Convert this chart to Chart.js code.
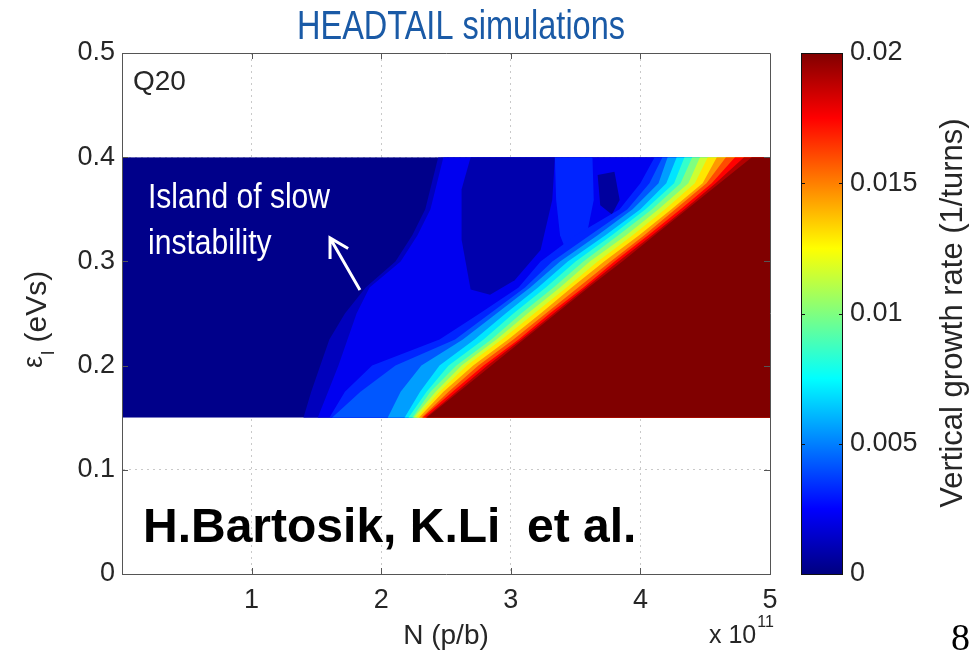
<!DOCTYPE html>
<html>
<head>
<meta charset="utf-8">
<script src="https://cdn.jsdelivr.net/npm/chart.js@4.4.0/dist/chart.umd.min.js"></script>
<style>
html,body{margin:0;padding:0;background:#fff;}
#wrap{position:relative;width:973px;height:657px;}
canvas{display:block;}
</style>
</head>
<body>
<div id="wrap"><canvas id="c" width="973" height="657"></canvas></div>
<script>
// ---------------- DATA ----------------
// longitudinal emittance rows (eVs) where the contour edges were read
const epsRows = [0.15, 0.175, 0.2, 0.225, 0.25, 0.275, 0.3, 0.325, 0.35, 0.375, 0.4];
// growth rate of the area left of every edge (1/turns)
const baseRate = 0.0002;
// growth rate of each contour band (1/turns), lowest to highest
const levelRates = [0.0012, 0.0022, 0.0032, 0.0042, 0.0056, 0.007, 0.0085, 0.01, 0.0115, 0.013, 0.0145, 0.016, 0.0175, 0.019, 0.02];
// N (x1e11 p/b) where each band starts, one value per epsRows entry
const edge01 = [1.40, 1.46, 1.53, 1.60, 1.72, 1.88, 2.11, 2.24, 2.34, 2.39, 2.44];
const edge02 = [1.51, 1.59, 1.67, 1.74, 1.81, 1.91, 2.15, 2.28, 2.38, 2.43, 2.48];
const edge03 = [1.60, 1.72, 1.93, 2.45, 2.76, 3.06, 3.23, 3.50, 3.84, 4.00, 4.11];
const edge04 = [1.62, 1.84, 2.11, 2.57, 2.84, 3.11, 3.32, 3.61, 3.90, 4.07, 4.17];
const edge05 = [2.05, 2.15, 2.31, 2.63, 2.89, 3.15, 3.38, 3.67, 3.94, 4.14, 4.21];
const edge06 = [2.18, 2.30, 2.45, 2.72, 2.96, 3.21, 3.44, 3.73, 4.00, 4.20, 4.28];
const edge07 = [2.21, 2.35, 2.52, 2.79, 3.02, 3.27, 3.50, 3.78, 4.04, 4.26, 4.34];
const edge08 = [2.24, 2.38, 2.58, 2.85, 3.08, 3.33, 3.56, 3.83, 4.09, 4.31, 4.40];
const edge09 = [2.25, 2.42, 2.62, 2.89, 3.13, 3.38, 3.61, 3.89, 4.14, 4.37, 4.46];
const edge10 = [2.27, 2.45, 2.66, 2.93, 3.18, 3.43, 3.67, 3.94, 4.19, 4.42, 4.52];
const edge11 = [2.29, 2.48, 2.71, 2.98, 3.23, 3.47, 3.72, 3.99, 4.24, 4.48, 4.59];
const edge12 = [2.31, 2.52, 2.75, 3.02, 3.27, 3.52, 3.77, 4.03, 4.27, 4.51, 4.66];
const edge13 = [2.32, 2.55, 2.79, 3.06, 3.30, 3.56, 3.80, 4.06, 4.31, 4.55, 4.73];
const edge14 = [2.34, 2.58, 2.82, 3.08, 3.33, 3.58, 3.83, 4.09, 4.34, 4.58, 4.80];
const edge15 = [2.35, 2.60, 2.85, 3.10, 3.35, 3.60, 3.86, 4.11, 4.36, 4.61, 4.86];
// isolated patches inside the slow-instability island
const patchDimN   = [2.69, 3.34, 3.32, 3.23, 3.03, 2.84, 2.69, 2.62, 2.62];
const patchDimEps = [0.40, 0.40, 0.359, 0.311, 0.282, 0.268, 0.273, 0.321, 0.369];
const patchDimRate = 0.0009;
const patchStreakN   = [3.34, 3.63, 3.64, 3.57, 3.46, 3.38, 3.35];
const patchStreakEps = [0.40, 0.40, 0.359, 0.316, 0.300, 0.325, 0.359];
const patchStreakRate = 0.0032;
const patchSpotN   = [3.67, 3.80, 3.84, 3.78, 3.69];
const patchSpotEps = [0.383, 0.386, 0.359, 0.345, 0.354];
const patchSpotRate = 0.0006;
// tick labels
const xTickLabels = ['', '1', '2', '3', '4', '5'];
const yTickLabels = ['0', '0.1', '0.2', '0.3', '0.4', '0.5'];
const cbTickLabels = ['0', '0.005', '0.01', '0.015', '0.02'];

// ---------------- build datasets ----------------
const edges = [edge01, edge02, edge03, edge04, edge05, edge06, edge07, edge08, edge09, edge10, edge11, edge12, edge13, edge14, edge15];
const toPts = (xs, ys) => xs.map((v, i) => ({x: v, y: ys[i]}));
const datasets = [];
edges.forEach((e, k) => {
  datasets.push({label: 'edge ' + (k + 1), kind: 'contour', rate: levelRates[k], data: toPts(e, epsRows)});
  if (k === 1) {
    datasets.push({label: 'dim patch', kind: 'patch', rate: patchDimRate, data: toPts(patchDimN, patchDimEps)});
    datasets.push({label: 'streak', kind: 'patch', rate: patchStreakRate, data: toPts(patchStreakN, patchStreakEps)});
    datasets.push({label: 'spot', kind: 'patch', rate: patchSpotRate, data: toPts(patchSpotN, patchSpotEps)});
  }
});
datasets.forEach(d => { d.pointRadius = 0; d.pointHoverRadius = 0; d.showLine = false; });

// ---------------- helpers ----------------
function jet(v, vmax) {
  const t = Math.max(0, Math.min(1, v / vmax));
  const c = a => Math.round(255 * Math.max(0, Math.min(1, a)));
  const r = Math.min(4 * t - 1.5, -4 * t + 4.5);
  const g = Math.min(4 * t - 0.5, -4 * t + 3.5);
  const b = Math.min(4 * t + 0.5, -4 * t + 2.5);
  return 'rgb(' + c(r) + ',' + c(g) + ',' + c(b) + ')';
}
const SANS = "'Liberation Sans', Arial, Helvetica, sans-serif";
const TXT = '#262626';

// draw text condensed horizontally (narrow face emulation)
function narrowText(ctx, text, x, y, sx) {
  ctx.save();
  ctx.translate(x, y); ctx.scale(sx, 1);
  ctx.fillText(text, 0, 0);
  ctx.restore();
}

const contourPlugin = {
  id: 'contourFill',
  beforeDatasetsDraw(chart) {
    const {ctx, scales: {x, y, cb}} = chart;
    const X = v => x.getPixelForValue(v), Y = v => y.getPixelForValue(v);
    const xl = X(x.min), xr = X(x.max);
    const yb = Y(epsRows[0]), yt = Y(epsRows[epsRows.length - 1]);
    ctx.save();
    ctx.beginPath(); ctx.rect(xl, yt, xr - xl, yb - yt); ctx.clip();
    ctx.fillStyle = jet(baseRate, cb.max);
    ctx.fillRect(xl, yt, xr - xl, yb - yt);
    chart.data.datasets.forEach(ds => {
      ctx.beginPath();
      ds.data.forEach((p, i) => i ? ctx.lineTo(X(p.x), Y(p.y)) : ctx.moveTo(X(p.x), Y(p.y)));
      if (ds.kind === 'contour') { ctx.lineTo(xr + 2, yt); ctx.lineTo(xr + 2, yb); }
      ctx.closePath();
      ctx.fillStyle = jet(ds.rate, cb.max);
      ctx.fill();
    });
    ctx.restore();
  }
};

const decorPlugin = {
  id: 'decor',
  afterDraw(chart) {
    const {ctx, chartArea: a, scales: {x, y, cb}} = chart;
    ctx.save();
    // box top/right + inward ticks
    ctx.strokeStyle = '#555'; ctx.lineWidth = 1;
    ctx.beginPath();
    ctx.moveTo(a.left, Math.round(a.top) + 0.5); ctx.lineTo(Math.round(a.right) + 0.5, Math.round(a.top) + 0.5);
    ctx.lineTo(Math.round(a.right) + 0.5, a.bottom);
    x.ticks.forEach(t => {
      if (t.value <= x.min || t.value >= x.max) return;
      const px = Math.round(x.getPixelForValue(t.value)) + 0.5;
      ctx.moveTo(px, a.bottom); ctx.lineTo(px, a.bottom - 6);
      ctx.moveTo(px, a.top); ctx.lineTo(px, a.top + 6);
    });
    y.ticks.forEach(t => {
      if (t.value <= y.min || t.value >= y.max) return;
      const py = Math.round(y.getPixelForValue(t.value)) + 0.5;
      ctx.moveTo(a.left, py); ctx.lineTo(a.left + 6, py);
      ctx.moveTo(a.right, py); ctx.lineTo(a.right - 6, py);
    });
    ctx.stroke();

    // colour bar
    const bx0 = 801, bx1 = 843;
    const by0 = cb.getPixelForValue(cb.max), by1 = cb.getPixelForValue(cb.min);
    const grad = ctx.createLinearGradient(0, by1, 0, by0);
    [0, 0.125, 0.375, 0.625, 0.875, 1].forEach(s => grad.addColorStop(s, jet(s * cb.max, cb.max)));
    ctx.fillStyle = grad;
    ctx.fillRect(bx0, by0, bx1 - bx0, by1 - by0);
    ctx.strokeStyle = '#111';
    ctx.strokeRect(bx0 + 0.5, Math.round(by0) + 0.5, bx1 - bx0 - 1, Math.round(by1 - by0));
    ctx.beginPath();
    cb.ticks.forEach(t => {
      if (t.value <= cb.min || t.value >= cb.max) return;
      const py = Math.round(cb.getPixelForValue(t.value)) + 0.5;
      ctx.moveTo(bx0, py); ctx.lineTo(bx0 + 4, py);
      ctx.moveTo(bx1, py); ctx.lineTo(bx1 - 4, py);
    });
    ctx.stroke();

    // colour bar title
    ctx.fillStyle = TXT;
    ctx.save();
    ctx.translate(953, 313); ctx.rotate(-Math.PI / 2);
    ctx.font = '31px ' + SANS; ctx.textAlign = 'center'; ctx.textBaseline = 'middle';
    ctx.fillText('Vertical growth rate (1/turns)', 0, 0);
    ctx.restore();

    // y axis title  ε_l (eVs)
    ctx.save();
    ctx.translate(46, 368); ctx.rotate(-Math.PI / 2);
    ctx.textBaseline = 'alphabetic'; ctx.textAlign = 'left';
    ctx.font = '27px ' + SANS; ctx.fillText('ε', 0, -4);
    let w = ctx.measureText('ε').width;
    ctx.font = '19px ' + SANS; ctx.fillText('l', w + 1, 8);
    w += ctx.measureText('l').width + 1;
    ctx.font = '30px ' + SANS; ctx.fillText(' (eVs)', w, 0);
    ctx.restore();

    ctx.textAlign = 'left'; ctx.textBaseline = 'alphabetic';
    // main title (condensed face)
    ctx.fillStyle = '#1a5aa6';
    ctx.font = '40px ' + SANS;
    const tw = ctx.measureText('HEADTAIL simulations').width;
    narrowText(ctx, 'HEADTAIL simulations', 297, 39, 328 / tw);

    // Q20
    ctx.fillStyle = TXT; ctx.font = '28px ' + SANS;
    ctx.fillText('Q20', 133, 90);

    // island annotation (condensed face)
    ctx.fillStyle = '#fff'; ctx.font = '35px ' + SANS;
    const iw = ctx.measureText('Island of slow').width;
    const isx = 182 / iw;
    narrowText(ctx, 'Island of slow', 148, 208, isx);
    narrowText(ctx, 'instability', 148, 254, isx);
    const tipX = x.getPixelForValue(1.605), tipY = y.getPixelForValue(0.3225);
    const tailX = x.getPixelForValue(1.836), tailY = y.getPixelForValue(0.2726);
    const ang = Math.atan2(tailY - tipY, tailX - tipX);
    ctx.strokeStyle = '#fff'; ctx.lineWidth = 3; ctx.lineCap = 'butt';
    ctx.beginPath();
    ctx.moveTo(tailX, tailY); ctx.lineTo(tipX, tipY);
    ctx.moveTo(tipX + 21 * Math.cos(ang + 0.52), tipY + 21 * Math.sin(ang + 0.52));
    ctx.lineTo(tipX, tipY);
    ctx.lineTo(tipX + 21 * Math.cos(ang - 0.52), tipY + 21 * Math.sin(ang - 0.52));
    ctx.stroke();

    // author credit
    ctx.fillStyle = '#000'; ctx.font = 'bold 48px ' + SANS;
    ctx.fillText('H.Bartosik, K.Li  et al.', 143, 542);

    // x 10^11 multiplier
    ctx.fillStyle = TXT; ctx.font = '25px ' + SANS;
    ctx.fillText('x 10', 709, 643);
    const mw = ctx.measureText('x 10').width;
    ctx.font = '16px ' + SANS;
    ctx.fillText('11', 709 + mw + 1, 627);

    // slide number
    ctx.fillStyle = '#000'; ctx.font = '38px "Liberation Serif", "Times New Roman", serif';
    ctx.fillText('8', 951, 650);
    ctx.restore();
  }
};

const gridColor = (ctx, lo, hi) => (ctx.tick && (ctx.tick.value <= lo || ctx.tick.value >= hi)) ? 'rgba(0,0,0,0)' : '#c9c9c9';

new Chart(document.getElementById('c'), {
  type: 'scatter',
  data: {datasets},
  options: {
    responsive: false,
    animation: false,
    events: [],
    layout: {padding: {top: 53, left: 0, right: 0, bottom: 0}},
    plugins: {legend: {display: false}, tooltip: {enabled: false}, title: {display: false}},
    scales: {
      x: {
        type: 'linear', position: 'bottom', min: 0, max: 5,
        ticks: {stepSize: 1, padding: 10, color: TXT, font: {family: SANS, size: 27}, maxRotation: 0, autoSkip: false,
                callback: (v, i) => xTickLabels[i]},
        grid: {color: c => gridColor(c, 0, 5), lineWidth: 1, drawTicks: false},
        border: {display: true, color: '#555', width: 1, dash: [2, 4], z: 1},
        title: {display: true, text: 'N (p/b)', color: TXT, font: {family: SANS, size: 28}, padding: {top: 0, bottom: 4}},
        afterFit: s => { s.height = 83; s.paddingLeft = 0; s.paddingRight = 0; }
      },
      y: {
        type: 'linear', position: 'left', min: 0, max: 0.5,
        ticks: {stepSize: 0.1, padding: 7, color: TXT, font: {family: SANS, size: 27},
                callback: (v, i) => yTickLabels[i]},
        grid: {color: c => gridColor(c, 0, 0.5), lineWidth: 1, drawTicks: false},
        border: {display: true, color: '#555', width: 1, dash: [2, 4], z: 1},
        afterFit: s => { s.width = 122; s.paddingTop = 0; s.paddingBottom = 0; }
      },
      cb: {
        type: 'linear', position: 'right', min: 0, max: 0.02,
        ticks: {stepSize: 0.005, padding: 80, color: TXT, font: {family: SANS, size: 27},
                callback: (v, i) => cbTickLabels[i]},
        grid: {display: false, drawOnChartArea: false, drawTicks: false},
        border: {display: false},
        afterFit: s => { s.width = 203; s.paddingTop = 0; s.paddingBottom = 0; }
      }
    }
  },
  plugins: [contourPlugin, decorPlugin]
});
</script>
</body>
</html>
